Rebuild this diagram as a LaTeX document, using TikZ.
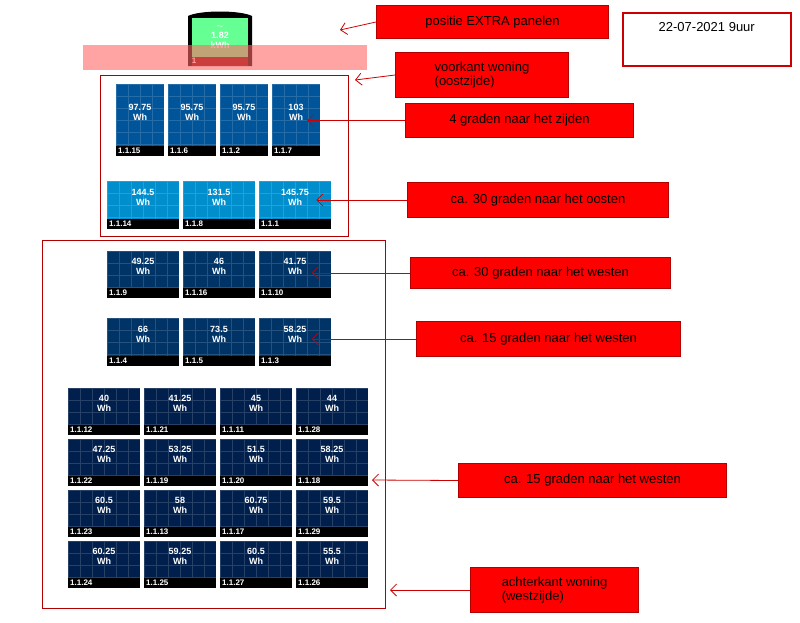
\documentclass[tikz,border=0pt]{standalone}
\usepackage{fontspec}
\setmainfont{Liberation Sans}
\usetikzlibrary{arrows.meta}
\begin{document}
\begin{tikzpicture}[x=1pt,y=-1pt,
  lbl/.style={draw=red!70!black,fill=red,line width=1pt,anchor=north west,inner sep=3pt,font=\fontsize{13}{14}\selectfont,align=left},
  arr/.style={red!80!black,line width=0.8pt,-{Straight Barb[length=6pt]}},
  frame/.style={draw=red!70!black,line width=1pt}]
\useasboundingbox (0,0) rectangle (800,622);
\fill[white] (0,0) rectangle (800,622);
\newcommand\pv[8]{%
  \fill[#8] (#2,#3) rectangle (#4,#5);
  \begin{scope}
  \clip (#2,#3) rectangle (#4,#5);
  \draw[white,opacity=0.15,step=12pt,shift={(#2,#3)}] (0,0) grid (#4-#2,#5-#3);
  \end{scope}
  \fill[black] (#2,#5-10) rectangle (#4,#5);
  \node[white,font=\bfseries\fontsize{9}{10}\selectfont,align=center] (#1) at ({(#2+#4)/2},{(#3+#5)/2-8}) {#6\\Wh};
  \node[white,font=\bfseries\fontsize{8}{8}\selectfont,anchor=west,inner sep=1pt] (#1id) at (#2+1,#5-5) {#7};}
% top panel
\fill[black] (188,16) .. controls (200,10) and (240,10) .. (252,16) -- (252,66) -- (188,66) -- cycle;
\fill[green!70!cyan!60!white] (192,18) rectangle (248,57);
\fill[red!50!black] (192,57) rectangle (248,66);
\node[white,font=\bfseries\fontsize{9}{10}\selectfont,align=center] (ex) at (220,37) {\fontsize{8}{8}\selectfont$\sim$\\1.82\\kWh};
\node[white,font=\bfseries\fontsize{8}{8}\selectfont,inner sep=1pt] (exid) at (194,61) {1};
\fill[red!60!white,opacity=0.6] (83,45) rectangle (367,70);
% frames
\draw[frame] (100,75) rectangle (348,236);
\draw[frame] (42,240) rectangle (385,608);
\colorlet{cA}{blue!45!cyan!60!black}
\pv{a1}{116}{84}{164}{156}{97.75}{1.1.15}{cA}
\pv{a2}{168}{84}{216}{156}{95.75}{1.1.6}{cA}
\pv{a3}{220}{84}{268}{156}{95.75}{1.1.2}{cA}
\pv{a4}{272}{84}{320}{156}{103}{1.1.7}{cA}
\colorlet{cB}{blue!30!cyan!80!black}
\pv{b1}{107}{181}{179}{229}{144.5}{1.1.14}{cB}
\pv{b2}{183}{181}{255}{229}{131.5}{1.1.8}{cB}
\pv{b3}{259}{181}{331}{229}{145.75}{1.1.1}{cB}
\colorlet{cC}{blue!50!cyan!40!black}
\pv{c1}{107}{251}{179}{298}{49.25}{1.1.9}{cC}
\pv{c2}{183}{251}{255}{298}{46}{1.1.16}{cC}
\pv{c3}{259}{251}{331}{298}{41.75}{1.1.10}{cC}
\pv{d1}{107}{318}{179}{366}{66}{1.1.4}{cC}
\pv{d2}{183}{318}{255}{366}{73.5}{1.1.5}{cC}
\pv{d3}{259}{318}{331}{366}{58.25}{1.1.3}{cC}
\colorlet{cD}{blue!60!cyan!30!black}
\pv{e1}{68}{388}{140}{435}{40}{1.1.12}{cD}
\pv{e2}{144}{388}{216}{435}{41.25}{1.1.21}{cD}
\pv{e3}{220}{388}{292}{435}{45}{1.1.11}{cD}
\pv{e4}{296}{388}{368}{435}{44}{1.1.28}{cD}
\pv{f1}{68}{439}{140}{486}{47.25}{1.1.22}{cD}
\pv{f2}{144}{439}{216}{486}{53.25}{1.1.19}{cD}
\pv{f3}{220}{439}{292}{486}{51.5}{1.1.20}{cD}
\pv{f4}{296}{439}{368}{486}{58.25}{1.1.18}{cD}
\pv{g1}{68}{490}{140}{537}{60.5}{1.1.23}{cD}
\pv{g2}{144}{490}{216}{537}{58}{1.1.13}{cD}
\pv{g3}{220}{490}{292}{537}{60.75}{1.1.17}{cD}
\pv{g4}{296}{490}{368}{537}{59.5}{1.1.29}{cD}
\pv{h1}{68}{541}{140}{588}{60.25}{1.1.24}{cD}
\pv{h2}{144}{541}{216}{588}{59.25}{1.1.25}{cD}
\pv{h3}{220}{541}{292}{588}{60.5}{1.1.27}{cD}
\pv{h4}{296}{541}{368}{588}{55.5}{1.1.26}{cD}
% labels
\node[lbl,minimum width=232pt,minimum height=33pt] (l1) at (376,5) {positie EXTRA panelen};
\node[draw=red!80!black,line width=1.5pt,fill=white,anchor=north west,minimum width=168pt,minimum height=53pt,text depth=24pt,font=\fontsize{13}{14}\selectfont] (date) at (622,12) {22-07-2021 9uur};
\node[lbl,minimum width=173pt,minimum height=45pt] (l2) at (395,52) {voorkant woning\\(oostzijde)};
\node[lbl,minimum width=228pt,minimum height=34pt] (l3) at (405,103) {4 graden naar het zijden};
\node[lbl,minimum width=261pt,minimum height=35pt] (l4) at (407,182) {ca. 30 graden naar het oosten};
\node[lbl,minimum width=260pt,minimum height=31pt] (l5) at (410,257) {ca. 30 graden naar het westen};
\node[lbl,minimum width=264pt,minimum height=35pt] (l6) at (416,321) {ca. 15 graden naar het westen};
\node[lbl,minimum width=268pt,minimum height=34pt] (l7) at (458,463) {ca. 15 graden naar het westen};
\node[lbl,minimum width=168pt,minimum height=45pt] (l8) at (470,567) {achterkant woning\\(westzijde)};
\coordinate (t1) at (340,30); \coordinate (t2) at (355,80);
\coordinate (t7) at (372,480); \coordinate (t8) at (390,590);
\draw[arr] (l1.west) -- (t1);
\draw[arr] (l2.west) -- (t2);
\draw[arr] (l3.west) -- (a4.east|-l3.west);
\draw[arr] (l4.west) -- ([xshift=4pt]b3.east|-l4.west);
\draw[arr] (l5.west) -- ([xshift=2pt]c3.east|-l5.west);
\draw[arr] (l6.west) -- ([xshift=2pt]d3.east|-l6.west);
\draw[arr] (l7.west) -- (t7);
\draw[arr] (l8.west) -- (t8);
\end{tikzpicture}
\end{document}
